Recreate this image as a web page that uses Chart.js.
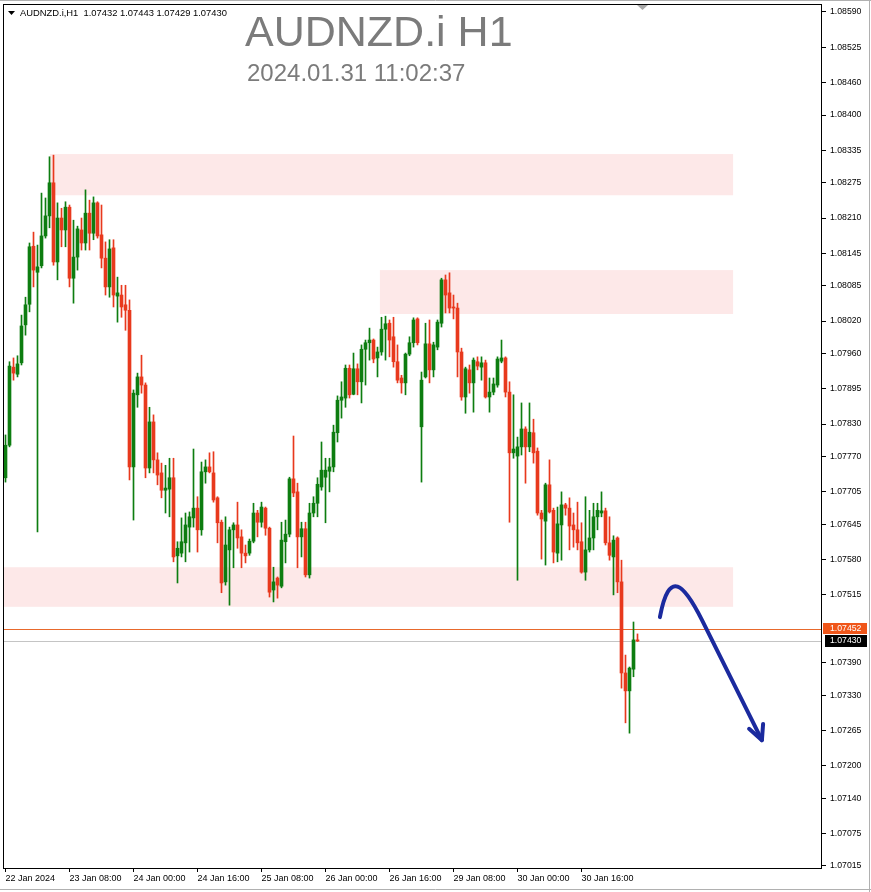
<!DOCTYPE html>
<html>
<head>
<meta charset="utf-8">
<title>AUDNZD.i H1</title>
<script src="https://cdn.jsdelivr.net/npm/chart.js@4.4.1/dist/chart.umd.min.js"></script>
<style>
  html, body { margin: 0; padding: 0; background: #ffffff; }
  canvas { display: block; }
</style>
</head>
<body>
<canvas id="chart" width="871" height="892"></canvas>
<script>
// AUDNZD.i, H1 candles (oldest first)
const OPEN = [
  1.07731,1.07791,1.07935,1.07922,1.07943,1.08013,1.08051,1.08158,1.08110,1.08122,
  1.08177,1.08214,1.08275,1.08129,1.08210,1.08188,1.08230,1.08099,1.08138,1.08188,
  1.08164,1.08219,1.08182,1.08238,1.08179,1.08136,1.08083,1.08155,1.08066,1.08068,
  1.08050,1.08040,1.07751,1.07884,1.07917,1.07902,1.07749,1.07834,1.07764,1.07740,
  1.07708,1.07710,1.07731,1.07587,1.07592,1.07611,1.07640,1.07657,1.07675,1.07635,
  1.07742,1.07751,1.07740,1.07694,1.07649,1.07539,1.07598,1.07635,1.07644,1.07622,
  1.07592,1.07592,1.07614,1.07666,1.07649,1.07675,1.07638,1.07524,1.07546,1.07531,
  1.07613,1.07627,1.07729,1.07705,1.07622,1.07637,1.07552,1.07666,1.07684,1.07714,
  1.07732,1.07743,1.07751,1.07814,1.07874,1.07878,1.07933,1.07885,1.07932,1.07908,
  1.07968,1.07980,1.07985,1.07952,1.07963,1.08005,1.08016,1.07991,1.07945,1.07915,
  1.07906,1.07959,1.07980,1.08024,1.07825,1.07917,1.07978,1.07930,1.07972,1.08016,
  1.08096,1.08072,1.08046,1.08044,1.07963,1.07880,1.07930,1.07906,1.07945,1.07935,
  1.07943,1.07880,1.07889,1.07902,1.07946,1.07952,1.07889,1.07777,1.07771,1.07788,
  1.07821,1.07788,1.07814,1.07780,1.07666,1.07651,1.07718,1.07671,1.07592,1.07644,
  1.07681,1.07675,1.07644,1.07635,1.07613,1.07557,1.07598,1.07620,1.07659,1.07666,
  1.07670,1.07611,1.07585,1.07620,1.07539,1.07371,1.07338,1.07378,1.07432
];
const HIGH = [
  1.07810,1.07945,1.07952,1.07956,1.08031,1.08064,1.08164,1.08184,1.08160,1.08256,
  1.08247,1.08323,1.08326,1.08238,1.08228,1.08240,1.08234,1.08206,1.08195,1.08210,
  1.08262,1.08243,1.08249,1.08240,1.08234,1.08166,1.08170,1.08170,1.08101,1.08086,
  1.08086,1.08059,1.07893,1.07924,1.07957,1.07906,1.07861,1.07847,1.07777,1.07758,
  1.07754,1.07767,1.07767,1.07613,1.07657,1.07666,1.07668,1.07784,1.07696,1.07760,
  1.07764,1.07777,1.07779,1.07696,1.07653,1.07659,1.07640,1.07648,1.07686,1.07635,
  1.07607,1.07618,1.07684,1.07671,1.07686,1.07677,1.07640,1.07566,1.07548,1.07649,
  1.07653,1.07732,1.07808,1.07721,1.07649,1.07649,1.07684,1.07696,1.07731,1.07797,
  1.07767,1.07767,1.07828,1.07882,1.07908,1.07939,1.07939,1.07961,1.07941,1.07976,
  1.07985,1.08007,1.07987,1.07972,1.08027,1.08029,1.08022,1.08027,1.07976,1.07920,
  1.07961,1.07991,1.08026,1.08026,1.07926,1.08016,1.08022,1.07981,1.08022,1.08099,
  1.08105,1.08109,1.08068,1.08053,1.07970,1.07935,1.07939,1.07952,1.07954,1.07954,
  1.07948,1.07915,1.07915,1.07954,1.07985,1.07954,1.07908,1.07884,1.07806,1.07869,
  1.07825,1.07869,1.07839,1.07786,1.07671,1.07721,1.07764,1.07675,1.07677,1.07705,
  1.07684,1.07694,1.07666,1.07686,1.07648,1.07696,1.07671,1.07684,1.07684,1.07705,
  1.07675,1.07659,1.07624,1.07622,1.07579,1.07404,1.07382,1.07465,1.07443
];
const LOW = [
  1.07723,1.07788,1.07911,1.07917,1.07939,1.07994,1.08037,1.08083,1.07631,1.08118,
  1.08173,1.08192,1.08123,1.08096,1.08157,1.08157,1.08083,1.08053,1.08114,1.08151,
  1.08151,1.08151,1.08170,1.08173,1.08118,1.08068,1.08064,1.08046,1.08018,1.08027,
  1.08003,1.07727,1.07653,1.07861,1.07887,1.07731,1.07740,1.07740,1.07718,1.07694,
  1.07666,1.07659,1.07576,1.07537,1.07585,1.07576,1.07594,1.07640,1.07594,1.07625,
  1.07721,1.07740,1.07686,1.07611,1.07519,1.07533,1.07496,1.07565,1.07601,1.07565,
  1.07574,1.07588,1.07611,1.07622,1.07640,1.07625,1.07511,1.07502,1.07509,1.07528,
  1.07574,1.07622,1.07696,1.07565,1.07585,1.07548,1.07546,1.07659,1.07659,1.07708,
  1.07648,1.07705,1.07742,1.07797,1.07841,1.07861,1.07878,1.07884,1.07884,1.07869,
  1.07902,1.07948,1.07943,1.07917,1.07957,1.07948,1.07954,1.07935,1.07906,1.07887,
  1.07884,1.07956,1.07972,1.07976,1.07723,1.07915,1.07906,1.07917,1.07967,1.08009,
  1.08035,1.08035,1.08024,1.07917,1.07874,1.07850,1.07887,1.07852,1.07930,1.07911,
  1.07878,1.07852,1.07884,1.07898,1.07943,1.07880,1.07649,1.07767,1.07542,1.07773,
  1.07721,1.07779,1.07758,1.07662,1.07581,1.07570,1.07666,1.07574,1.07576,1.07579,
  1.07662,1.07598,1.07603,1.07598,1.07555,1.07542,1.07594,1.07598,1.07635,1.07659,
  1.07607,1.07579,1.07515,1.07519,1.07343,1.07279,1.07260,1.07364,1.07429
];
const CLOSE = [
  1.07791,1.07937,1.07924,1.07941,1.08011,1.08050,1.08157,1.08114,1.08120,1.08177,
  1.08214,1.08275,1.08129,1.08210,1.08188,1.08230,1.08099,1.08138,1.08190,1.08164,
  1.08219,1.08182,1.08238,1.08177,1.08136,1.08083,1.08153,1.08068,1.08072,1.08046,
  1.08040,1.07751,1.07887,1.07917,1.07902,1.07749,1.07834,1.07764,1.07736,1.07708,
  1.07712,1.07731,1.07585,1.07601,1.07613,1.07644,1.07659,1.07675,1.07635,1.07742,
  1.07751,1.07742,1.07690,1.07648,1.07537,1.07607,1.07635,1.07644,1.07620,1.07592,
  1.07587,1.07614,1.07666,1.07649,1.07677,1.07638,1.07520,1.07539,1.07533,1.07616,
  1.07627,1.07729,1.07703,1.07622,1.07637,1.07552,1.07666,1.07684,1.07719,1.07745,
  1.07745,1.07751,1.07815,1.07874,1.07880,1.07933,1.07884,1.07932,1.07908,1.07968,
  1.07980,1.07985,1.07950,1.07963,1.08005,1.08015,1.07985,1.07945,1.07911,1.07906,
  1.07959,1.07980,1.08022,1.07980,1.07911,1.07978,1.07930,1.07976,1.08018,1.08096,
  1.08068,1.08044,1.08044,1.07963,1.07880,1.07932,1.07906,1.07948,1.07937,1.07943,
  1.07880,1.07889,1.07904,1.07950,1.07952,1.07889,1.07777,1.07784,1.07788,1.07821,
  1.07788,1.07815,1.07777,1.07666,1.07655,1.07718,1.07668,1.07594,1.07646,1.07681,
  1.07675,1.07642,1.07635,1.07611,1.07557,1.07598,1.07620,1.07659,1.07671,1.07670,
  1.07611,1.07588,1.07616,1.07539,1.07371,1.07338,1.07380,1.07432,1.07430
];

// time axis: bar index of each labelled hour and its text
const X_TICK_INDEX  = [0, 16, 32, 48, 64, 80, 96, 112, 128, 144];
const X_TICK_LABELS = ['22 Jan 2024', '23 Jan 08:00', '24 Jan 00:00', '24 Jan 16:00', '25 Jan 08:00',
                       '26 Jan 00:00', '26 Jan 16:00', '29 Jan 08:00', '30 Jan 00:00', '30 Jan 16:00'];

// price axis grid values
const Y_TICKS = [1.08590, 1.08525, 1.08460, 1.08400, 1.08335, 1.08275, 1.08210, 1.08145, 1.08085,
                 1.08020, 1.07960, 1.07895, 1.07830, 1.07770, 1.07705, 1.07645, 1.07580, 1.07515,
                 1.07390, 1.07330, 1.07265, 1.07200, 1.07140, 1.07075, 1.07015];
const PRICE_MIN = 1.0701131;
const PRICE_MAX = 1.0860475;
const BAR_MIN = -0.375;
const BAR_MAX = 204.125;

// supply / demand zones (bar index span, price band)
const ZONE_FROM   = [11.1, 93.6, -0.375];
const ZONE_TO     = [181.9, 181.9, 181.9];
const ZONE_TOP    = [1.08328, 1.08114, 1.07566];
const ZONE_BOTTOM = [1.08252, 1.08033, 1.07493];

// horizontal price levels
const LEVEL_PRICE = 1.07452;
const BID_PRICE = 1.07430;

// projected path: start, two control points, bend, tip, two head ends (bar index, price)
const PATH_BARS   = [163.6, 165.9, 169.6, 174.1, 189.1, 185.9, 189.4];
const PATH_PRICES = [1.07474, 1.07565, 1.07535, 1.07469, 1.07247, 1.07268, 1.07277];

const SYMBOL = 'AUDNZD.i';
const PERIOD = 'H1';
const STAMP = '2024.01.31 11:02:37';

const BULL = '#0d7d10';
const BEAR = '#e8391d';
const ZONE_FILL = 'rgb(253,232,232)';
const FONT = '"Liberation Sans", Arial, sans-serif';

const bars = OPEN.map((_, i) => i);
const candleColor = c => (CLOSE[c.dataIndex] >= OPEN[c.dataIndex] ? BULL : BEAR);

const decorations = {
  id: 'decorations',
  beforeDatasetsDraw(chart) {
    const { ctx, chartArea: a, scales: { x, y } } = chart;
    ctx.save();
    ctx.beginPath();
    ctx.rect(a.left, a.top, a.right - a.left, a.bottom - a.top);
    ctx.clip();
    ctx.fillStyle = ZONE_FILL;
    ZONE_FROM.forEach((from, k) => {
      const x0 = Math.max(a.left, x.getPixelForValue(from));
      const x1 = x.getPixelForValue(ZONE_TO[k]);
      const y0 = y.getPixelForValue(ZONE_TOP[k]);
      const y1 = y.getPixelForValue(ZONE_BOTTOM[k]);
      ctx.fillRect(x0, y0, x1 - x0, y1 - y0);
    });
    const yl = Math.round(y.getPixelForValue(LEVEL_PRICE)) + 0.5;
    ctx.strokeStyle = '#e8692c';
    ctx.lineWidth = 1;
    ctx.beginPath(); ctx.moveTo(a.left, yl); ctx.lineTo(a.right, yl); ctx.stroke();
    const yb = Math.round(y.getPixelForValue(BID_PRICE)) + 0.5;
    ctx.strokeStyle = '#c4c4c4';
    ctx.beginPath(); ctx.moveTo(a.left, yb); ctx.lineTo(a.right, yb); ctx.stroke();
    ctx.restore();
  },
  afterDraw(chart) {
    const { ctx, chartArea: a, scales: { x, y } } = chart;
    ctx.save();

    // window edges and plot frame
    ctx.strokeStyle = '#b0b0b0';
    ctx.lineWidth = 1;
    ctx.beginPath();
    ctx.moveTo(0, 0.5); ctx.lineTo(871, 0.5);
    ctx.moveTo(869.5, 0); ctx.lineTo(869.5, 892);
    ctx.moveTo(0, 889.5); ctx.lineTo(871, 889.5);
    ctx.stroke();
    ctx.strokeStyle = '#000000';
    ctx.strokeRect(a.left - 0.5, a.top + 0.5, a.right - a.left, a.bottom - a.top);

    // chart shift marker
    ctx.fillStyle = '#a8a8a8';
    ctx.beginPath(); ctx.moveTo(637, 5); ctx.lineTo(648, 5); ctx.lineTo(642.5, 10); ctx.closePath(); ctx.fill();

    // price tags on the axis
    ctx.font = '8.7px ' + FONT;
    ctx.textBaseline = 'middle';
    ctx.textAlign = 'left';
    const yl = Math.round(y.getPixelForValue(LEVEL_PRICE));
    ctx.fillStyle = '#f0561a';
    ctx.fillRect(a.right + 1, yl - 6, 44, 11);
    ctx.fillStyle = '#ffffff';
    ctx.fillText(LEVEL_PRICE.toFixed(5), a.right + 8, yl);
    const yb = Math.round(y.getPixelForValue(BID_PRICE));
    ctx.fillStyle = '#000000';
    ctx.fillRect(a.right + 3, yb - 6, 42, 12);
    ctx.fillStyle = '#ffffff';
    ctx.fillText(BID_PRICE.toFixed(5), a.right + 8, yb);

    // header line with the last bar
    const last = OPEN.length - 1;
    ctx.fillStyle = '#000000';
    ctx.beginPath(); ctx.moveTo(8, 11); ctx.lineTo(15, 11); ctx.lineTo(11.5, 15); ctx.closePath(); ctx.fill();
    ctx.font = '9.4px ' + FONT;
    ctx.fillText(SYMBOL + ',' + PERIOD + '  ' + [OPEN[last], HIGH[last], LOW[last], CLOSE[last]].map(v => v.toFixed(5)).join(' '), 20, 13);

    // big caption
    ctx.fillStyle = '#7b7b7b';
    ctx.textBaseline = 'alphabetic';
    ctx.font = '43px ' + FONT;
    ctx.fillText(SYMBOL + ' ' + PERIOD, 245, 46);
    ctx.font = '24px ' + FONT;
    ctx.fillText(STAMP, 247, 81);

    // projected move
    const px = PATH_BARS.map(v => x.getPixelForValue(v));
    const py = PATH_PRICES.map(v => y.getPixelForValue(v));
    ctx.strokeStyle = '#1b2a9e';
    ctx.lineWidth = 4;
    ctx.lineCap = 'round';
    ctx.lineJoin = 'round';
    ctx.beginPath();
    ctx.moveTo(px[0], py[0]);
    ctx.bezierCurveTo(px[1], py[1], px[2], py[2], px[3], py[3]);
    ctx.lineTo(px[4], py[4]);
    ctx.stroke();
    ctx.beginPath();
    ctx.moveTo(px[5], py[5]);
    ctx.lineTo(px[4], py[4]);
    ctx.lineTo(px[6], py[6]);
    ctx.stroke();
    ctx.restore();
  }
};

const noOverhang = s => { s.paddingTop = 0; s.paddingBottom = 0; s.paddingLeft = 0; s.paddingRight = 0; };

new Chart(document.getElementById('chart'), {
  type: 'bar',
  data: {
    datasets: [
      {
        label: 'body',
        data: bars.map(i => ({ x: i, y: [OPEN[i], CLOSE[i]] })),
        backgroundColor: candleColor,
        borderWidth: 0,
        barThickness: 3,
        minBarLength: 1,
        grouped: false
      },
      {
        label: 'wick',
        data: bars.map(i => ({ x: i, y: [LOW[i], HIGH[i]] })),
        backgroundColor: candleColor,
        borderWidth: 0,
        barThickness: 1,
        minBarLength: 1,
        grouped: false
      }
    ]
  },
  options: {
    responsive: false,
    animation: false,
    devicePixelRatio: 1,
    layout: { padding: { left: 4, top: 4, right: 0, bottom: 0 } },
    plugins: { legend: { display: false }, tooltip: { enabled: false } },
    scales: {
      x: {
        type: 'linear',
        min: BAR_MIN,
        max: BAR_MAX,
        offset: false,
        afterBuildTicks: s => { s.ticks = X_TICK_INDEX.map(v => ({ value: v })); },
        afterFit: s => { s.height = 24; noOverhang(s); },
        grid: { offset: false, drawOnChartArea: false, drawTicks: true, tickLength: 4, color: '#000000' },
        border: { display: false },
        ticks: {
          autoSkip: false,
          maxRotation: 0,
          align: 'start',
          padding: 1,
          color: '#000000',
          font: { family: FONT, size: 9 },
          callback: v => X_TICK_LABELS[X_TICK_INDEX.indexOf(v)]
        }
      },
      y: {
        type: 'linear',
        position: 'right',
        min: PRICE_MIN,
        max: PRICE_MAX,
        afterBuildTicks: s => { s.ticks = Y_TICKS.map(v => ({ value: v })); },
        afterFit: s => { s.width = 49; noOverhang(s); },
        grid: { drawOnChartArea: false, drawTicks: true, tickLength: 4, color: '#000000' },
        border: { display: false },
        ticks: {
          autoSkip: false,
          padding: 4,
          color: '#000000',
          font: { family: FONT, size: 8.7 },
          callback: v => Number(v).toFixed(5)
        }
      }
    }
  },
  plugins: [decorations]
});
</script>
</body>
</html>
